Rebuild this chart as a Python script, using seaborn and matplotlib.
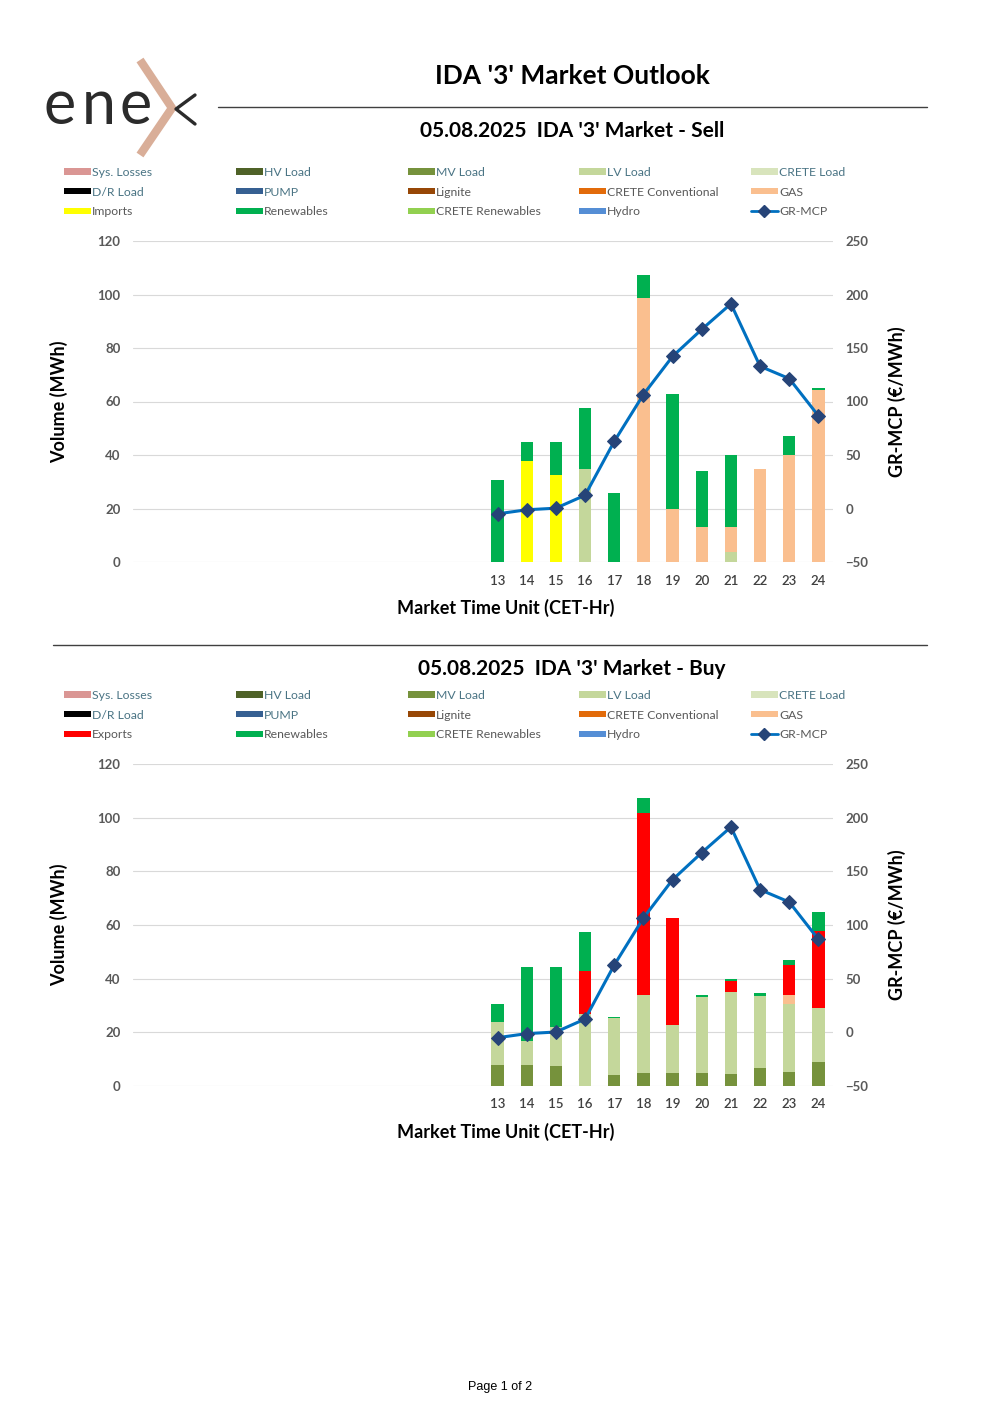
import numpy as np
import pandas as pd
import matplotlib
matplotlib.use('Agg')
import matplotlib.pyplot as plt
from matplotlib.patches import Patch
from matplotlib.lines import Line2D
import seaborn as sns

# market time units with data (hours 1-12 are empty in the report)
hours = [13, 14, 15, 16, 17, 18, 19, 20, 21, 22, 23, 24]
all_hours = [str(h) for h in range(1, 25)]
tick_labels = [''] * 12 + [str(h) for h in hours]

# GR-MCP (EUR/MWh)
mcp = [-5.0, -1.2, 0.3, 12.4, 62.7, 106.5, 142.2, 167.4, 191.3, 132.9, 121.4, 86.6]

# Sell side (MWh)
sell_lv_load = [0, 0, 0, 34.7, 0, 0, 0, 0, 3.9, 0, 0, 0]
sell_gas = [0, 0, 0, 0, 0, 98.8, 19.8, 12.9, 9.0, 34.7, 40.0, 64.4]
sell_imports = [0, 37.6, 32.6, 0, 0, 0, 0, 0, 0, 0, 0, 0]
sell_renewables = [30.7, 7.1, 12.1, 22.8, 25.9, 8.5, 42.9, 21.1, 27.1, 0, 7.1, 0.6]

# Buy side (MWh)
buy_mv_load = [8.0, 7.7, 7.5, 0, 4.0, 4.7, 4.9, 4.9, 4.6, 6.8, 5.2, 9.0]
buy_lv_load = [15.9, 9.1, 14.4, 26.7, 21.2, 29.1, 17.7, 28.3, 30.4, 26.7, 25.5, 20.1]
buy_gas = [0, 0, 0, 0, 0, 0, 0, 0, 0, 0, 3.1, 0]
buy_exports = [0, 0, 0, 16.1, 0, 68.1, 40.0, 0, 4.1, 0, 11.2, 28.6]
buy_renewables = [6.7, 27.7, 22.5, 14.5, 0.5, 5.3, 0, 0.6, 0.8, 1.1, 2.0, 7.1]

colors = {
    'Sys. Losses': '#DA9694', 'HV Load': '#4F6228', 'MV Load': '#76923C',
    'LV Load': '#C4D79B', 'CRETE Load': '#D8E4BC', 'D/R Load': '#000000',
    'PUMP': '#366092', 'Lignite': '#974706', 'CRETE Conventional': '#E26B0A',
    'GAS': '#FABF8F', 'Imports': '#FFFF00', 'Exports': '#FF0000',
    'Renewables': '#00B050', 'CRETE Renewables': '#92D050', 'Hydro': '#558ED5',
}
line_color = '#0070C0'
marker_color = '#264478'
teal = '#4A7484'
grey = '#595959'

sns.set_theme(style='white')
plt.rcParams['font.family'] = ['Lato', 'DejaVu Sans']

fig = plt.figure(figsize=(10, 14.15), dpi=100)

# overlay in pixel coords for header, rules and footer
ov = fig.add_axes([0, 0, 1, 1])
ov.set_xlim(0, 1000)
ov.set_ylim(1415, 0)
ov.axis('off')

# logo
for lx, ch in zip([44, 82, 120], 'ene'):
    ov.text(lx, 124, ch, fontsize=44, fontweight='normal', color='#2B2B2B', va='baseline', ha='left')
ov.plot([140, 172, 140], [60, 108, 155], color='#D9AE98', lw=6, solid_capstyle='butt')
ov.plot([195, 176, 195], [95, 109, 124], color='#2B2B2B', lw=2.4)

ov.text(572, 76, "IDA '3' Market Outlook", ha='center', va='center', fontsize=19, fontweight='bold', color='black')
ov.plot([218, 927], [107, 107], color='#404040', lw=1)
ov.text(572, 131, "05.08.2025  IDA '3' Market - Sell", ha='center', va='center', fontsize=15, fontweight='bold', color='black')
ov.plot([53, 927], [645, 645], color='#404040', lw=1)
ov.text(572, 669, "05.08.2025  IDA '3' Market - Buy", ha='center', va='center', fontsize=15, fontweight='bold', color='black')
ov.text(500, 1387, 'Page 1 of 2', ha='center', va='center', fontsize=9, color='black', family=['Liberation Sans', 'DejaVu Sans'])


def draw_panel(rect, layers):
    ax = fig.add_axes(rect)
    df = pd.DataFrame({'hour': [str(h) for h in hours]})
    running = np.zeros(len(hours))
    for name, vals in layers:
        running = running + np.array(vals)
        df[name] = running
    # cumulative heights drawn from top layer down so lower layers cover upper
    for name, vals in reversed(layers):
        sns.barplot(data=df, x='hour', y=name, order=all_hours, color=colors[name],
                    saturation=1, width=0.42, linewidth=0, errorbar=None, ax=ax)
    ax.set_ylim(0, 120)
    ax.set_yticks(range(0, 121, 20))
    ax.set_xticks(range(24))
    ax.set_xticklabels(tick_labels)
    ax.set_xlim(-0.5, 23.5)
    ax.grid(axis='y', color='#D9D9D9', lw=0.8)
    ax.set_axisbelow(True)
    sns.despine(ax=ax, left=True, bottom=True)
    ax.tick_params(axis='y', length=0, pad=9, labelsize=9.5, labelcolor=grey)
    ax.tick_params(axis='x', length=0, pad=9, labelsize=9.5, labelcolor='#404040')
    for t in ax.get_yticklabels():
        t.set_fontweight('bold')
    for t in ax.get_xticklabels():
        t.set_fontweight('semibold')
    ax.set_xlabel('Market Time Unit (CET-Hr)', fontsize=13, fontweight='bold', color='black')
    ax.xaxis.set_label_coords(0.533, -0.115)
    ax.set_ylabel('Volume (MWh)', fontsize=13, fontweight='bold', color='black')
    ax.yaxis.set_label_coords(-0.093, 0.5)

    ax2 = ax.twinx()
    xpos = [all_hours.index(str(h)) for h in hours]
    sns.lineplot(x=xpos, y=mcp, ax=ax2, color=line_color, lw=2.2, marker='D', markersize=7.5,
                 markerfacecolor=marker_color, markeredgecolor=marker_color)
    ax2.set_ylim(-50, 250)
    ax2.set_yticks(range(-50, 251, 50))
    ax2.set_xlim(-0.5, 23.5)
    sns.despine(ax=ax2, left=True, bottom=True, right=True)
    ax2.tick_params(axis='y', length=0, pad=9, labelsize=9.5, labelcolor=grey)
    for t in ax2.get_yticklabels():
        t.set_fontweight('bold')
    ax2.set_ylabel('GR-MCP (€/MWh)', fontsize=13, fontweight='bold', color='black')
    ax2.yaxis.set_label_coords(1.0786, 0.5)
    return ax


def draw_legend(top_px, third):
    cols = [
        ['Sys. Losses', 'D/R Load', third],
        ['HV Load', 'PUMP', 'Renewables'],
        ['MV Load', 'Lignite', 'CRETE Renewables'],
        ['LV Load', 'CRETE Conventional', 'Hydro'],
        ['CRETE Load', 'GAS', 'GR-MCP'],
    ]
    teal_names = {'Sys. Losses', 'D/R Load', 'HV Load', 'PUMP', 'MV Load', 'LV Load', 'CRETE Load'}
    xs = [64, 236, 408, 579, 751]
    for x, names in zip(xs, cols):
        handles = []
        for n in names:
            if n == 'GR-MCP':
                handles.append(Line2D([], [], color=line_color, lw=2, marker='D', markersize=6,
                                      markerfacecolor=marker_color, markeredgecolor=marker_color))
            else:
                handles.append(Patch(facecolor=colors[n], edgecolor='none'))
        leg = fig.legend(handles, names, loc='upper left', bbox_to_anchor=(x / 1000, 1 - top_px / 1415),
                         frameon=False, fontsize=8.8, handlelength=2.2, handleheight=0.42,
                         handletextpad=0.1, labelspacing=0.7, borderpad=0, borderaxespad=0)
        for t, n in zip(leg.get_texts(), names):
            t.set_color(teal if n in teal_names else grey)


sell_layers = [('LV Load', sell_lv_load), ('GAS', sell_gas), ('Imports', sell_imports),
               ('Renewables', sell_renewables)]
buy_layers = [('MV Load', buy_mv_load), ('LV Load', buy_lv_load), ('GAS', buy_gas),
              ('Exports', buy_exports), ('Renewables', buy_renewables)]

draw_panel([0.133, 1 - 562 / 1415, 0.70, 321 / 1415], sell_layers)
draw_panel([0.133, 1 - 1086 / 1415, 0.70, 322 / 1415], buy_layers)
draw_legend(167, 'Imports')
draw_legend(690, 'Exports')

fig.savefig('out.png', dpi=100, facecolor='white')
